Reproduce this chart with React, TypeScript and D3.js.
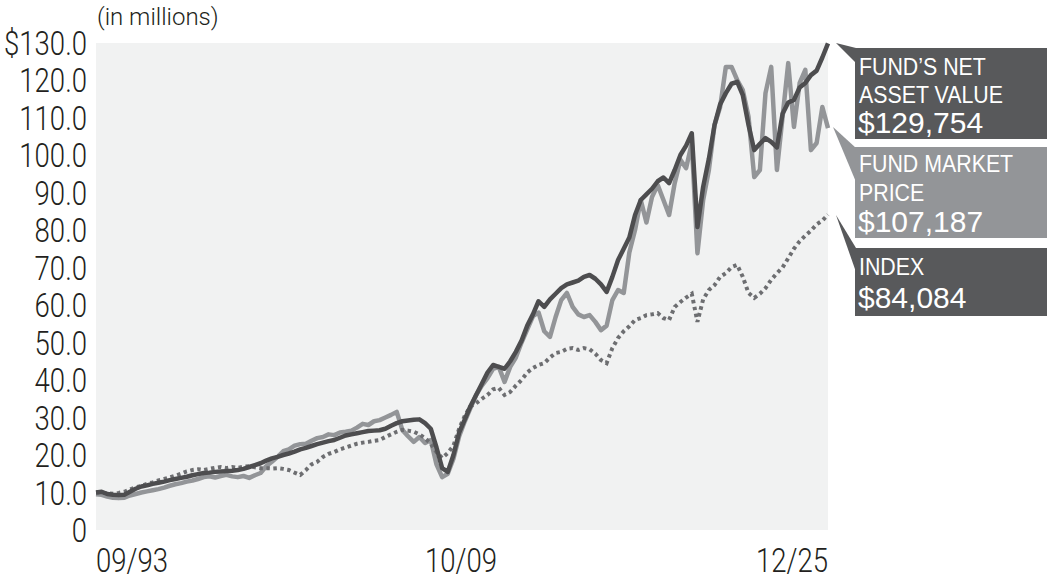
import React from "react";
import * as d3 from "d3";

const startDate = new Date(1993, 8, 1); // 09/93, quarterly points to 12/25

const navValues = [
  10.0, 10.2, 9.6, 9.4, 9.3, 9.4, 10.2, 11.0, 11.6, 11.9,
  12.3, 12.6, 12.9, 13.3, 13.6, 13.9, 14.2, 14.6, 14.9, 15.2,
  15.3, 15.5, 15.6, 15.7, 15.8, 16.0, 16.3, 16.8, 17.3, 17.8,
  18.5, 19.1, 19.5, 20.0, 20.4, 20.9, 21.5, 21.9, 22.4, 22.9,
  23.3, 23.7, 24.0, 24.6, 25.2, 25.5, 25.8, 26.1, 26.4, 26.5,
  26.6, 27.0, 27.8, 28.5, 29.0, 29.2, 29.4, 29.5, 28.5, 27.0,
  22.0, 16.5, 15.5, 20.0, 26.0, 29.5, 33.0, 36.0, 39.0, 42.0,
  44.0, 43.5, 43.0, 45.0, 47.5, 50.5, 54.5, 57.5, 61.0, 59.5,
  61.5, 63.0, 64.5, 65.5, 66.0, 66.5, 67.5, 68.0, 67.0, 65.5,
  63.5, 67.5, 72.0, 75.0, 78.0, 84.0, 88.0, 89.5, 91.0, 93.0,
  94.0, 92.5, 96.0, 100.0, 102.5, 105.8, 80.8, 91.5, 99.0, 108.0,
  113.5, 116.5, 119.0, 119.5, 116.0, 108.0, 101.3, 103.0, 104.5, 103.5,
  102.0, 111.0, 114.0, 114.7, 118.0, 119.2, 121.3, 122.5, 126.0, 129.754,
];

const priceValues = [
  9.5, 9.4, 8.9, 8.6, 8.5, 8.6, 9.2, 9.6, 10.0, 10.3,
  10.6, 10.9, 11.3, 11.8, 12.2, 12.5, 12.9, 13.2, 13.6, 14.1,
  14.3, 14.0, 14.4, 14.7, 14.3, 14.1, 14.4, 13.9, 14.6, 15.2,
  17.0, 18.2, 19.5, 21.0, 21.5, 22.5, 22.9, 23.0, 23.8, 24.5,
  24.8, 25.5, 25.3, 26.0, 26.2, 26.5, 27.3, 28.3, 28.0, 29.0,
  29.3, 30.0, 30.7, 31.5, 26.7, 25.0, 23.5, 24.8, 23.2, 24.0,
  17.5, 14.1, 15.0, 19.0, 25.0, 29.0, 32.5, 36.0, 38.5, 40.5,
  43.0, 43.5, 39.5, 43.5, 46.0, 50.0, 53.5, 57.0, 58.0, 53.0,
  51.5, 56.8, 61.3, 63.2, 59.5, 57.5, 56.8, 57.3, 55.5, 53.3,
  54.5, 61.3, 64.0, 63.2, 74.0, 80.0, 88.0, 82.0, 88.8, 92.0,
  88.0, 84.0, 92.5, 98.7, 96.5, 103.2, 73.8, 88.0, 96.0, 108.0,
  112.8, 123.5, 123.5, 120.0, 117.3, 110.2, 94.1, 96.0, 116.5, 123.5,
  96.0, 110.2, 124.5, 107.5, 119.2, 122.7, 101.3, 103.2, 112.8, 107.187,
];

const indexValues = [
  10.0, 10.0, 9.8, 9.7, 9.9, 10.2, 10.8, 11.4, 11.7, 12.3,
  12.7, 13.2, 13.6, 14.0, 14.5, 15.0, 15.6, 16.0, 16.2, 16.0,
  16.3, 16.6, 16.8, 16.5, 16.8, 16.6, 16.9, 17.0, 16.7, 16.5,
  16.5, 16.4, 16.5, 16.3, 16.0, 15.3, 14.7, 16.0, 17.5, 18.2,
  19.5, 20.3, 20.8, 21.5, 22.0, 22.5, 23.0, 23.3, 23.5, 23.8,
  24.0, 24.8, 25.5, 26.2, 26.7, 26.5, 26.2, 25.5, 24.5, 23.0,
  20.8, 19.2, 20.5, 22.5, 27.0, 30.5, 33.0, 33.8, 35.0, 36.0,
  37.5, 37.9, 36.0, 36.8, 38.5, 40.0, 42.0, 43.2, 44.0, 44.5,
  46.0, 47.2, 47.5, 48.3, 48.5, 48.0, 48.5, 48.2, 47.0, 45.3,
  44.5, 48.5, 51.2, 53.0, 54.3, 56.0, 56.5, 57.3, 57.5, 57.8,
  56.5, 56.0, 59.5, 60.8, 62.0, 63.0, 55.5, 61.5, 64.0, 65.3,
  67.5, 68.5, 70.1, 70.7, 67.5, 63.2, 61.9, 63.0, 64.5, 66.7,
  68.5, 70.0, 72.5, 75.0, 77.0, 78.5, 79.8, 81.5, 82.5, 84.084,
];

const yTicks = [0, 10, 20, 30, 40, 50, 60, 70, 80, 90, 100, 110, 120, 130];
const xTickLabels = [
  { date: new Date(1993, 8, 1), label: "09/93", anchor: "start" },
  { date: new Date(2009, 9, 1), label: "10/09", anchor: "middle" },
  { date: new Date(2025, 11, 1), label: "12/25", anchor: "end" },
];

const legendItems = [
  { lines: ["FUND\u2019S NET", "ASSET VALUE"], value: "$129,754", color: "#58595b" },
  { lines: ["FUND MARKET", "PRICE"], value: "$107,187", color: "#939598" },
  { lines: ["INDEX"], value: "$84,084", color: "#58595b" },
];

const W = 1047;
const H = 587;
const plot = { left: 96, right: 828, top: 42.5, bottom: 530 };
const axisFont = "Roboto, 'Liberation Sans', sans-serif";
const legendFont = "'Liberation Sans', Arial, Helvetica, sans-serif";

function SText(props: {
  x: number;
  y: number;
  sx: number;
  anchor?: string;
  size: number;
  family: string;
  weight?: number;
  fill: string;
  children: React.ReactNode;
}) {
  return (
    <text
      transform={`translate(${props.x},${props.y}) scale(${props.sx},1)`}
      textAnchor={props.anchor || "start"}
      fontFamily={props.family}
      fontSize={props.size}
      fontWeight={props.weight || 400}
      fill={props.fill}
    >
      {props.children}
    </text>
  );
}

export default function App() {
  const dates = navValues.map((_, i) => d3.timeMonth.offset(startDate, 3 * i));
  const x = d3.scaleTime().domain([dates[0], dates[dates.length - 1]]).range([plot.left, plot.right]);
  const y = d3.scaleLinear().domain([0, 130]).range([plot.bottom, plot.top]);

  const line = d3
    .line<number>()
    .x((_, i) => x(dates[i]))
    .y((d) => y(d))
    .curve(d3.curveLinear);

  const boxX = 855;
  const boxes = [
    { y0: 48, y1: 139, tip: [836, 43], a: 48, b: 63, baselines: [75, 103], valueBase: 133 },
    { y0: 147, y1: 238, tip: [833, 127], a: 148, b: 182, baselines: [172, 201], valueBase: 232 },
    { y0: 248, y1: 316, tip: [836, 215], a: 248, b: 272, baselines: [275], valueBase: 308 },
  ];

  return (
    <svg width={W} height={H} style={{ position: "absolute", left: 0, top: 0, background: "#fff" }}>
      <rect x={plot.left} y={43} width={plot.right - plot.left} height={plot.bottom - 43} fill="#f1f2f2" />

      <SText x={97} y={25} sx={1} size={24} family={axisFont} weight={300} fill="#231f20">
        (in millions)
      </SText>

      {yTicks.map((t) => (
        <SText key={t} x={87} y={y(t) + 12} sx={0.81} anchor="end" size={34} family={axisFont} weight={300} fill="#231f20">
          {t === 0 ? "0" : (t === 130 ? "$" : "") + t.toFixed(1)}
        </SText>
      ))}

      {xTickLabels.map((t) => (
        <SText
          key={t.label}
          x={x(t.date)}
          y={572}
          sx={0.81}
          anchor={t.anchor}
          size={34}
          family={axisFont}
          weight={300}
          fill="#231f20"
        >
          {t.label}
        </SText>
      ))}

      <path d={line(priceValues) || ""} fill="none" stroke="#939598" strokeWidth={4.5} strokeLinejoin="round" />
      <path d={line(indexValues) || ""} fill="none" stroke="#6d6e71" strokeWidth={4} strokeDasharray="3.5 3.5" />
      <path d={line(navValues) || ""} fill="none" stroke="#4d4d4f" strokeWidth={4.5} strokeLinejoin="round" />

      {legendItems.map((item, k) => {
        const b = boxes[k];
        return (
          <g key={k}>
            <polygon points={`${b.tip[0]},${b.tip[1]} ${boxX + 1},${b.a} ${boxX + 1},${b.b}`} fill={item.color} />
            <rect x={boxX} y={b.y0} width={W - boxX} height={b.y1 - b.y0} fill={item.color} />
            {item.lines.map((ln, j) => (
              <SText key={j} x={859} y={b.baselines[j]} sx={0.89} size={24} family={legendFont} fill="#fff">
                {ln}
              </SText>
            ))}
            <SText x={858} y={b.valueBase} sx={1} size={30} family={legendFont} fill="#fff">
              {item.value}
            </SText>
          </g>
        );
      })}
    </svg>
  );
}
